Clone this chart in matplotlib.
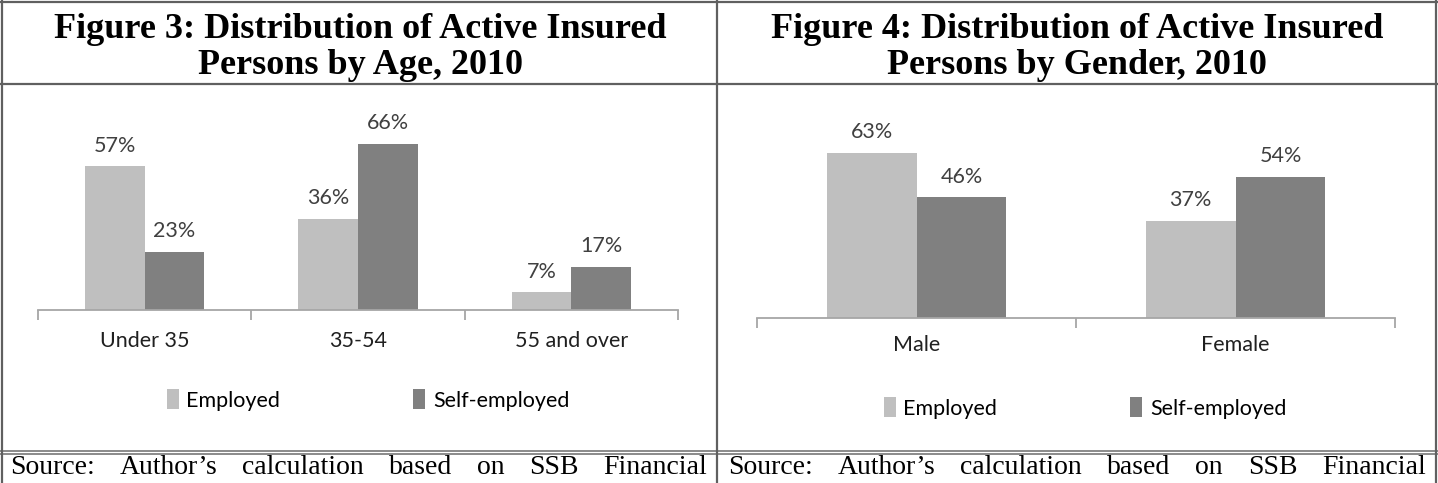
import matplotlib
matplotlib.use("Agg")
import matplotlib.pyplot as plt
from matplotlib.lines import Line2D
import numpy as np

# ---- data ----
age_categories = ["Under 35", "35-54", "55 and over"]
age_employed = [57, 36, 7]
age_self_employed = [23, 66, 17]

gender_categories = ["Male", "Female"]
gender_employed = [63, 37]
gender_self_employed = [46, 54]

series_names = ["Employed", "Self-employed"]
title_lines = [["Figure 3: Distribution of Active Insured", "Persons by Age, 2010"],
               ["Figure 4: Distribution of Active Insured", "Persons by Gender, 2010"]]
source_text = "Source: Author\u2019s calculation based on SSB Financial"

W, H = 1438, 483
fig = plt.figure(figsize=(W / 100, H / 100), dpi=100)

C_EMP = "#BFBFBF"
C_SELF = "#808080"
AX_COL = "#A6A6A6"
SANS = ["Lato", "DejaVu Sans"]
SERIF = ["Liberation Serif", "DejaVu Serif"]
FS = 15.5


def px_axes(x0, x1, ybase, ytop):
    return fig.add_axes([x0 / W, (H - ybase) / H, (x1 - x0) / W, (ybase - ytop) / H])


def draw_chart(ax, cats, emp, selfe, width, ymax, pad):
    x = np.arange(len(cats))
    b1 = ax.bar(x - width / 2, emp, width, color=C_EMP, label=series_names[0])
    b2 = ax.bar(x + width / 2, selfe, width, color=C_SELF, label=series_names[1])
    for bars, vals in ((b1, emp), (b2, selfe)):
        for r, v in zip(bars, vals):
            ax.annotate(f"{v}%", (r.get_x() + r.get_width() / 2, v),
                        xytext=(0, 15), textcoords="offset points",
                        ha="center", va="center", fontsize=FS,
                        family=SANS, color="#404040")
    ax.set_xlim(-0.5, len(cats) - 0.5)
    ax.set_ylim(0, ymax)
    for s in ("top", "right", "left"):
        ax.spines[s].set_visible(False)
    ax.spines["bottom"].set_color(AX_COL)
    ax.spines["bottom"].set_linewidth(1.3)
    ax.set_yticks([])
    ax.set_xticks(x)
    ax.set_xticklabels(cats, fontsize=FS, family=SANS, color="#202020")
    ax.tick_params(axis="x", which="major", length=0, pad=pad)
    ax.set_xticks(np.arange(len(cats) + 1) - 0.5, minor=True)
    ax.tick_params(axis="x", which="minor", length=7, width=1.3, color=AX_COL, direction="out")
    ax.patch.set_alpha(0)
    return ax


leg_kw = dict(loc="center", ncol=2, frameon=False, handlelength=0.55, handleheight=1.0,
              handletextpad=0.35, columnspacing=6.2,
              prop={"family": SANS, "size": FS})

ax1 = px_axes(38, 678, 310, 310 - 2.52 * 70)
draw_chart(ax1, age_categories, age_employed, age_self_employed, 0.28, 70, 15)
ax1.legend(bbox_to_anchor=(0.5 + 10 / 640, (310 - 400) / (2.52 * 70)), **leg_kw)

ax2 = px_axes(757, 1395, 318, 318 - 2.62 * 70)
draw_chart(ax2, gender_categories, gender_employed, gender_self_employed, 0.282, 70, 12)
ax2.legend(bbox_to_anchor=(0.5 + 9 / 638, (318 - 408) / (2.62 * 70)), **leg_kw)

# ---- table borders ----
def hline(y, x0, x1, lw=1.6, color="#606060"):
    fig.add_artist(Line2D([x0 / W, x1 / W], [(H - y) / H, (H - y) / H],
                          lw=lw, color=color, transform=fig.transFigure))


def vline(x, y0, y1, lw=1.6, color="#606060"):
    fig.add_artist(Line2D([x / W, x / W], [(H - y0) / H, (H - y1) / H],
                          lw=lw, color=color, transform=fig.transFigure))


hline(1.5, 0, W)
hline(84, 0, W)
hline(450.5, 0, W, lw=1.2, color="#777777")
hline(453.5, 0, W, lw=1.2, color="#777777")
vline(1.5, 0, H)
vline(717, 0, H)
vline(1435.5, 0, H)

# ---- titles ----
for cx, lines in zip((360, 1077), title_lines):
    for y, t in zip((29, 65), lines):
        fig.text(cx / W, (H - y) / H, t, ha="center", va="center",
                 family=SERIF, fontweight="bold", fontsize=26, color="black")

# ---- justified source text ----
fig.canvas.draw()
renderer = fig.canvas.get_renderer()
words = source_text.split(" ")
for x0, x1 in ((10, 707), (728, 1426)):
    arts = [fig.text(0, (H - 468) / H, w, ha="left", va="center",
                     family=SERIF, fontsize=20, color="black") for w in words]
    widths = [a.get_window_extent(renderer).width for a in arts]
    gap = ((x1 - x0) - sum(widths)) / (len(words) - 1)
    pos = x0
    for a, wd in zip(arts, widths):
        a.set_x(pos / W)
        pos += wd + gap

fig.savefig("out.png", dpi=100)
